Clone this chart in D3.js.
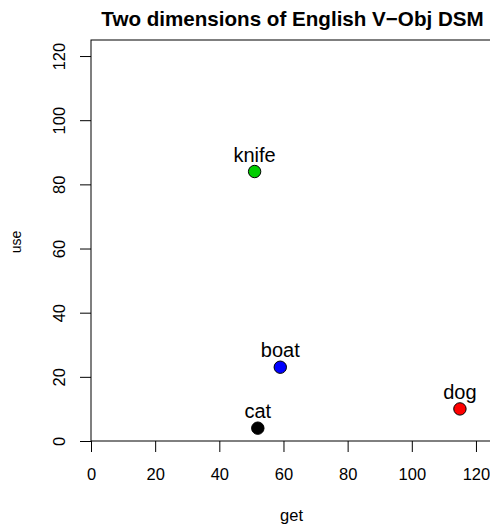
<!DOCTYPE html>
<html>
<head>
<meta charset="utf-8">
<script src="https://cdn.jsdelivr.net/npm/d3@7"></script>
<style>
  html, body { margin: 0; padding: 0; background: #fff; }
  svg { display: block; font-family: "Liberation Sans", Arial, sans-serif; }
</style>
</head>
<body>
<svg id="chart" width="490" height="527"></svg>
<script>
const words = ["knife", "cat", "dog", "boat"];
const getValues = [51, 52, 115, 59];
const useValues = [84, 4, 10, 23];
const pointColors = ["#00CD00", "#000000", "#FF0000", "#0000FF"];
const tickValues = [0, 20, 40, 60, 80, 100, 120];
const titleText = "Two dimensions of English V\u2212Obj DSM";
const xLabel = "get";
const yLabel = "use";

const svg = d3.select("#chart");
const plotLeft = 91, plotBottom = 441, plotTop = 40;
const unit = (plotBottom - plotTop) / 125;
const x = d3.scaleLinear().domain([0, 125]).range([plotLeft, plotLeft + 125 * unit]);
const y = d3.scaleLinear().domain([0, 125]).range([plotBottom, plotTop]);

// plot box
svg.append("rect")
  .attr("x", x(0)).attr("y", y(125))
  .attr("width", x(125) - x(0)).attr("height", y(0) - y(125))
  .attr("fill", "none").attr("stroke", "#000").attr("stroke-width", 1);

// x axis
const gx = svg.append("g")
  .attr("transform", `translate(0,${y(0)})`)
  .call(d3.axisBottom(x).tickValues(tickValues).tickSize(11).tickSizeOuter(0));
gx.select(".domain").remove();
gx.selectAll(".tick line").attr("stroke", "#000");
gx.selectAll(".tick text")
  .attr("y", 39).attr("dy", 0)
  .attr("font-size", 16.5).attr("fill", "#000")
  .attr("font-family", "Liberation Sans, Arial, sans-serif");

// y axis
const gy = svg.append("g")
  .attr("transform", `translate(${x(0)},0)`)
  .call(d3.axisLeft(y).tickValues(tickValues).tickSize(11).tickSizeOuter(0));
gy.select(".domain").remove();
gy.selectAll(".tick line").attr("stroke", "#000");
gy.selectAll(".tick text")
  .attr("x", 0).attr("y", 0).attr("dy", 0)
  .attr("text-anchor", "middle")
  .attr("transform", "translate(-26,0) rotate(-90)")
  .attr("font-size", 16.5).attr("fill", "#000")
  .attr("font-family", "Liberation Sans, Arial, sans-serif");

// title
svg.append("text")
  .attr("x", 292.5).attr("y", 25.5)
  .attr("text-anchor", "middle")
  .attr("font-weight", "bold").attr("font-size", 20.6)
  .text(titleText);

// axis labels
svg.append("text")
  .attr("x", (x(0) + x(125)) / 2).attr("y", 521)
  .attr("text-anchor", "middle").attr("font-size", 16.5)
  .text(xLabel);
svg.append("text")
  .attr("transform", `translate(21,242) rotate(-90)`)
  .attr("text-anchor", "middle").attr("font-size", 14)
  .text(yLabel);

// points
const pts = words.map((w, i) => ({ w, gx: getValues[i], uy: useValues[i], c: pointColors[i] }));
svg.append("g").selectAll("circle").data(pts).join("circle")
  .attr("cx", d => x(d.gx)).attr("cy", d => y(d.uy))
  .attr("r", 6.2)
  .attr("fill", d => d.c).attr("stroke", "#000").attr("stroke-width", 1);

svg.append("g").selectAll("text").data(pts).join("text")
  .attr("x", d => x(d.gx)).attr("y", d => y(d.uy) - 10)
  .attr("text-anchor", "middle").attr("font-size", 20)
  .text(d => d.w);
</script>
</body>
</html>
